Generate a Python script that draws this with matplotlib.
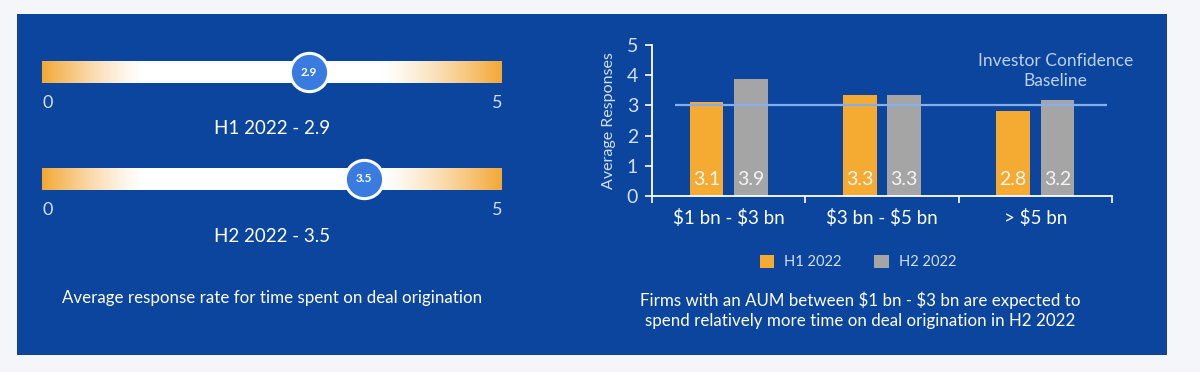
import numpy as np
import matplotlib.pyplot as plt
from matplotlib.patches import Rectangle

plt.rcParams['font.family'] = ['Lato', 'DejaVu Sans']

# slider data (left panel)
slider_labels = ['H1 2022', 'H2 2022']
slider_values = [2.9, 3.5]
slider_max = 5

# bar chart data (right panel)
categories = ['$1 bn - $3 bn', '$3 bn - $5 bn', '> $5 bn']
h1_values = [3.12, 3.34, 2.80]
h2_values = [3.86, 3.34, 3.18]
series_names = ['H1 2022', 'H2 2022']
baseline = 3
y_ticks = [0, 1, 2, 3, 4, 5]

W, H = 1200, 372
navy = '#0b459e'
orange = '#f5ab32'
gray = '#a5a5a5'
pale = '#d3def2'

fig = plt.figure(figsize=(W / 100, H / 100), dpi=100, facecolor='#f4f6fa')
fig.patches.append(Rectangle((17 / W, 1 - 355 / H), 1150 / W, 341 / H,
                             transform=fig.transFigure, facecolor=navy,
                             edgecolor='none', zorder=-5))

# ---- left panel: sliders ----
axl = fig.add_axes([42 / W, 0, 460 / W, 1])
axl.set_xlim(0, slider_max)
axl.set_ylim(H, 0)
axl.axis('off')

t = np.linspace(0, 1, 400)
w = np.clip(1 - t / 0.22, 0, 1) ** 1.3 + np.clip((t - 0.74) / 0.26, 0, 1) ** 1.3
w = np.clip(w, 0, 1)
oc = np.array([0xf3, 0xa8, 0x36]) / 255
grad = (1 - w[:, None]) * np.ones(3) + w[:, None] * oc
grad = grad[None, :, :]

for i, (lab, val) in enumerate(zip(slider_labels, slider_values)):
    yc = 72 + i * 107
    axl.imshow(grad, extent=(0, slider_max, yc + 11, yc - 11), aspect='auto', zorder=2)
    axl.scatter([val], [yc], s=760, color='#3a7be0', edgecolor='white',
                linewidth=2.2, zorder=4)
    axl.text(val, yc, f'{val}', color='white', fontsize=8.5, fontweight='bold',
             ha='center', va='center', zorder=5)
    axl.text(0.0, yc + 31, '0', color=pale, fontsize=13, ha='left', va='center')
    axl.text(slider_max, yc + 31, str(slider_max), color=pale, fontsize=13,
             ha='right', va='center')
    axl.text(slider_max / 2, yc + 57, f'{lab} - {val}', color='white', fontsize=13.5,
             ha='center', va='center')

axl.text(slider_max / 2, 298, 'Average response rate for time spent on deal origination',
         color='white', fontsize=12.2, ha='center', va='center')

# ---- right panel: bar chart ----
ax = fig.add_axes([652 / W, 1 - 196 / H, 460 / W, 151 / H])
ax.set_facecolor('none')
x = np.arange(len(categories))
bw = 0.22
off = 0.145
b1 = ax.bar(x - off, h1_values, bw, color=orange, label=series_names[0], zorder=2)
b2 = ax.bar(x + off, h2_values, bw, color=gray, label=series_names[1], zorder=2)
for bars, vals in ((b1, h1_values), (b2, h2_values)):
    for rect, v in zip(bars, vals):
        ax.text(rect.get_x() + rect.get_width() / 2, 0.55, f'{v:.1f}', color='#f4f4f4',
                fontsize=14, ha='center', va='center', zorder=3)

ax.hlines(baseline, -0.35, 2.47, color='#86aee8', linewidth=1.6, zorder=3)
ax.text(2.13, 4.15, 'Investor Confidence\nBaseline', color='#bcd0ef', fontsize=12.5,
        ha='center', va='center', linespacing=1.3)

ax.set_xlim(-0.5, 2.5)
ax.set_ylim(0, 5)
ax.set_yticks(y_ticks)
ax.set_xticks(x)
ax.set_xticklabels(categories, parse_math=False)
ax.set_xticks([-0.5, 0.5, 1.5, 2.5], minor=True)
for s in ('top', 'right'):
    ax.spines[s].set_visible(False)
for s in ('left', 'bottom'):
    ax.spines[s].set_color('white')
    ax.spines[s].set_linewidth(1.3)
ax.tick_params(axis='y', colors='white', length=5, width=1.2, labelsize=14,
               labelcolor=pale, pad=5)
ax.tick_params(axis='x', which='major', length=0, labelsize=13.5, labelcolor='white', pad=9)
ax.tick_params(axis='x', which='minor', length=5, width=1.2, colors='white')
ax.set_ylabel('Average Responses', color=pale, fontsize=11.5, labelpad=8)

fig.legend(handles=[b1, b2], loc='center', bbox_to_anchor=(858 / W, 1 - 262 / H),
           ncol=2, frameon=False, handlelength=1.0, handleheight=1.0,
           columnspacing=2.2, handletextpad=0.7, fontsize=10.5, labelcolor=pale)

fig.text(860 / W, 1 - 310 / H,
         'Firms with an AUM between $1 bn - $3 bn are expected to\n'
         'spend relatively more time on deal origination in H2 2022',
         color='white', fontsize=12.2, ha='center', va='center', linespacing=1.3,
         parse_math=False)

fig.savefig('out.png', dpi=100, facecolor=fig.get_facecolor())
